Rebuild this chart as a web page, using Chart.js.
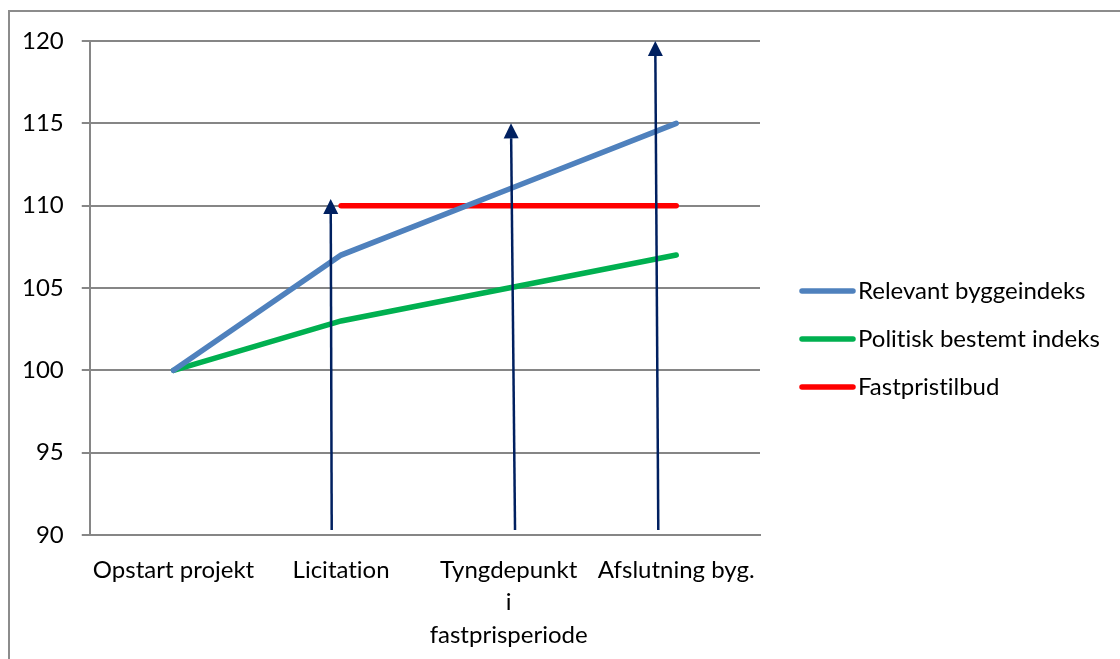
<!DOCTYPE html>
<html>
<head>
<meta charset="utf-8">
<script src="https://cdn.jsdelivr.net/npm/chart.js@4/dist/chart.umd.min.js"></script>
<style>
  html, body { margin: 0; padding: 0; background: #fff; }
  #wrap { width: 1120px; height: 659px; position: relative; }
</style>
</head>
<body>
<div id="wrap"><canvas id="chart"></canvas></div>
<script>
'use strict';

// categories and series
const categories = ['Opstart projekt', 'Licitation', ['Tyngdepunkt', 'i', 'fastprisperiode'], 'Afslutning byg.'];
const relevantIndex = [100, 107, 111, 115];
const politicalIndex = [100, 103, 105, 107];
const fixedPriceBid = [null, 110, 110, 110];

// arrows (x in category units, y in index units)
const arrowBaseX = [0.944, 2.038, 2.893];
const arrowTipX = [0.938, 2.014, 2.875];
const arrowBaseY = [90.3, 90.3, 90.3];
const arrowTipY = [110.4, 115, 120];

const yTicks = [90, 95, 100, 105, 110, 115, 120];

const gridGray = '#868686';
const arrowNavy = '#002060';
const fontFamily = 'Lato, "Open Sans", sans-serif';

const arrowsPlugin = {
  id: 'arrows',
  afterDatasetsDraw(chart) {
    const ctx = chart.ctx;
    const xs = chart.scales.x;
    const ys = chart.scales.y;
    ctx.save();
    ctx.strokeStyle = arrowNavy;
    ctx.fillStyle = arrowNavy;
    ctx.lineWidth = 2.5;
    for (let i = 0; i < arrowTipY.length; i++) {
      const x0 = xs.getPixelForValue(arrowBaseX[i]);
      const y0 = ys.getPixelForValue(arrowBaseY[i]);
      const x1 = xs.getPixelForValue(arrowTipX[i]);
      const y1 = ys.getPixelForValue(arrowTipY[i]);
      const ang = Math.atan2(y1 - y0, x1 - x0);
      const headLen = 15, headHalf = 7.5;
      const bx = x1 - headLen * Math.cos(ang);
      const by = y1 - headLen * Math.sin(ang);
      ctx.beginPath();
      ctx.moveTo(x0, y0);
      ctx.lineTo(bx, by);
      ctx.stroke();
      ctx.beginPath();
      ctx.moveTo(x1, y1);
      ctx.lineTo(bx + headHalf * Math.sin(ang), by - headHalf * Math.cos(ang));
      ctx.lineTo(bx - headHalf * Math.sin(ang), by + headHalf * Math.cos(ang));
      ctx.closePath();
      ctx.fill();
    }
    ctx.restore();
  }
};

// legend drawn next to the plot, lines + labels like the office chart
const sideLegendPlugin = {
  id: 'sideLegend',
  afterDraw(chart) {
    const ctx = chart.ctx;
    const left = chart.chartArea.right + 40;
    const midY = 339;
    const gap = 48;
    const sets = chart.data.datasets;
    ctx.save();
    ctx.font = '24px ' + fontFamily;
    ctx.textRendering = 'optimizeSpeed';
    ctx.textBaseline = 'middle';
    ctx.textAlign = 'left';
    sets.forEach((ds, i) => {
      const y = midY + (i - (sets.length - 1) / 2) * gap;
      ctx.strokeStyle = ds.borderColor;
      ctx.lineWidth = 5.5;
      ctx.lineCap = 'round';
      ctx.beginPath();
      ctx.moveTo(left + 2, y);
      ctx.lineTo(left + 53, y);
      ctx.stroke();
      ctx.fillStyle = '#000';
      ctx.fillText(ds.label, left + 58, y);
    });
    ctx.restore();
  }
};

const framePlugin = {
  id: 'frame',
  beforeDraw(chart) {
    const ctx = chart.ctx;
    // no "ti" ligatures, the original font has none
    ctx.textRendering = 'optimizeSpeed';
    ctx.save();
    ctx.strokeStyle = '#8c8c8c';
    ctx.lineWidth = 2;
    ctx.beginPath();
    ctx.moveTo(9, chart.height + 5);
    ctx.lineTo(9, 11);
    ctx.lineTo(chart.width + 5, 11);
    ctx.stroke();
    ctx.restore();
  }
};

Chart.defaults.font.family = fontFamily;
Chart.defaults.font.size = 24;
Chart.defaults.color = '#000';

new Chart(document.getElementById('chart'), {
  type: 'line',
  data: {
    labels: categories,
    datasets: [
      {
        label: 'Relevant byggeindeks',
        data: relevantIndex,
        borderColor: '#4F81BD',
        backgroundColor: '#4F81BD',
        borderWidth: 5.5,
        borderCapStyle: 'round',
        pointRadius: 0,
        tension: 0
      },
      {
        label: 'Politisk bestemt indeks',
        data: politicalIndex,
        borderColor: '#00B050',
        backgroundColor: '#00B050',
        borderWidth: 5.5,
        borderCapStyle: 'round',
        pointRadius: 0,
        tension: 0
      },
      {
        label: 'Fastpristilbud',
        data: fixedPriceBid,
        borderColor: '#FF0000',
        backgroundColor: '#FF0000',
        borderWidth: 5.5,
        borderCapStyle: 'round',
        pointRadius: 0,
        tension: 0
      }
    ]
  },
  options: {
    responsive: true,
    maintainAspectRatio: false,
    animation: false,
    layout: { padding: { left: 4, top: 41, right: 360, bottom: 0 } },
    plugins: {
      tooltip: { enabled: false },
      legend: { display: false }
    },
    scales: {
      x: {
        offset: true,
        grid: { display: false, drawTicks: false },
        border: { display: true, color: gridGray, width: 2 },
        afterFit(axis) { axis.height = 124; },
        ticks: {
          padding: 19,
          maxRotation: 0,
          autoSkip: false,
          font: { size: 24, lineHeight: 1.35 }
        }
      },
      y: {
        min: 90,
        max: 120,
        afterBuildTicks(axis) {
          axis.ticks = yTicks.map(v => ({ value: v }));
        },
        grid: { color: gridGray, lineWidth: 2, tickLength: 8 },
        border: { display: true, color: gridGray, width: 2 },
        ticks: { padding: 18, font: { size: 24 } }
      }
    }
  },
  plugins: [framePlugin, arrowsPlugin, sideLegendPlugin]
});
</script>
</body>
</html>
